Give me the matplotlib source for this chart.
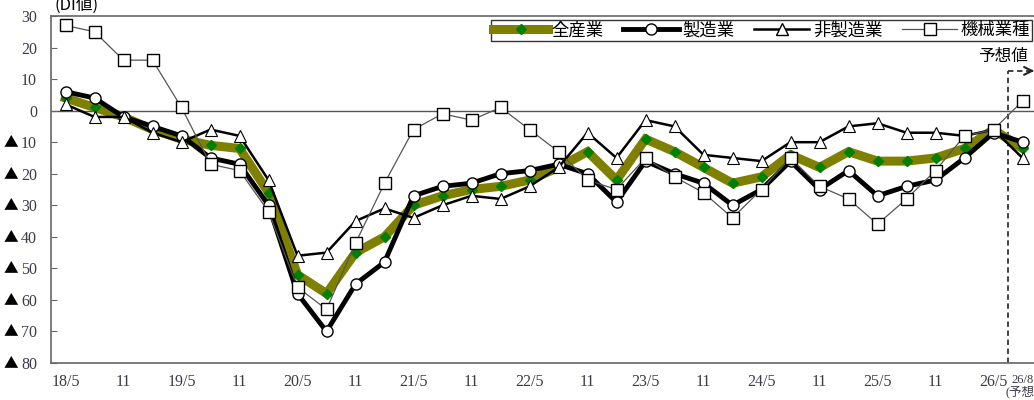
import matplotlib
matplotlib.use("Agg")
import matplotlib.pyplot as plt
from matplotlib.lines import Line2D

# quarterly DI values, 18/5 .. 26/5 plus the 26/8 forecast
all_industries = [4, 1, -2, -6, -9, -11, -12, -26, -52, -58, -45, -40, -30, -27, -25, -24, -22,
                  -18, -13, -22, -9, -13, -18, -23, -21, -14, -18, -13, -16, -16, -15, -12, -6, -12]
manufacturing = [6, 4, -2, -5, -8, -15, -17, -30, -58, -70, -55, -48, -27, -24, -23, -20, -19,
                 -17, -20, -29, -16, -20, -23, -30, -25, -16, -25, -19, -27, -24, -22, -15, -7, -10]
non_manufacturing = [2, -2, -2, -7, -10, -6, -8, -22, -46, -45, -35, -31, -34, -30, -27, -28, -24,
                     -18, -7, -15, -3, -5, -14, -15, -16, -10, -10, -5, -4, -7, -7, -8, -6, -15]
machinery = [27, 25, 16, 16, 1, -17, -19, -32, -56, -63, -42, -23, -6, -1, -3, 1, -6,
             -13, -22, -25, -15, -21, -26, -34, -25, -15, -24, -28, -36, -28, -19, -8, -6, 3]

x_tick_labels = ["18/5", "11", "19/5", "11", "20/5", "11", "21/5", "11", "22/5",
                 "11", "23/5", "11", "24/5", "11", "25/5", "11", "26/5"]
forecast_label = "26/8\n(予想)"
y_ticks = [30, 20, 10, 0, -10, -20, -30, -40, -50, -60, -70, -80]
y_tick_labels = ["30", "20", "10", "0", "10", "20", "30", "40", "50", "60", "70", "80"]

jp = ["Noto Sans CJK JP", "DejaVu Sans"]
num_font = ["Liberation Serif", "DejaVu Sans"]
tick_color = "#3a3a4a"

fig = plt.figure(figsize=(10.34, 4.0), dpi=100)
ax = fig.add_axes([51 / 1034, 37 / 400, 986 / 1034, 347 / 400])

x = list(range(len(all_industries)))

ax.plot(x, all_industries, color="#808000", lw=6.5, marker="D", ms=5.5,
        mfc="#008000", mec="#008000", zorder=2, solid_joinstyle="miter")
ax.plot(x, manufacturing, color="black", lw=3.5, marker="o", ms=8,
        mfc="white", mec="black", mew=1, zorder=3)
ax.plot(x, non_manufacturing, color="black", lw=1.8, marker="^", ms=8.5,
        mfc="white", mec="black", mew=0.8, zorder=4)
ax.plot(x, machinery, color="#555555", lw=0.9, marker="s", ms=9,
        mfc="white", mec="black", mew=1, zorder=5)

ax.axhline(0, color="#555555", lw=1, zorder=1)

# forecast marker
ax.plot([32.5, 32.5], [-80, 12.6], ls=(0, (3, 2)), color="#333333", lw=1.3, zorder=1)
ax.plot([32.5, 33.35], [12.6, 12.6], ls=(0, (3, 2)), color="#333333", lw=1.3, zorder=1)
ax.annotate("", xy=(33.5, 12.6), xytext=(33.2, 12.6),
            arrowprops=dict(arrowstyle="->", color="#222222", lw=1.5, mutation_scale=14))
ax.text(33.19, 17.3, "予想値", ha="right", va="center", fontsize=12, family=jp)

ax.set_xlim(-0.5, 33.5)
ax.set_ylim(-80, 30)

ax.set_yticks(y_ticks)
ax.set_yticklabels(y_tick_labels, family=num_font, fontsize=11.5, color=tick_color)
ax.tick_params(axis="y", direction="in", length=4, pad=10, color="#666666")

# negative values are written with a black triangle in front
for v in y_ticks:
    if v < 0:
        ax.text(-0.0406, v, "▲", transform=ax.get_yaxis_transform(), ha="center",
                va="center", fontsize=10.5, family=jp, color="black")

ax.set_xticks(list(range(0, 33, 2)) + [33])
ax.set_xticklabels(x_tick_labels + [forecast_label], family=num_font, fontsize=11.5, color=tick_color)
ax.get_xticklabels()[-1].set_fontsize(9)
ax.get_xticklabels()[-1].set_family(["Liberation Serif", "Noto Sans CJK JP"])
ax.get_xticklabels()[-1].set_linespacing(0.9)
ax.tick_params(axis="x", length=0, pad=8)

for side in ["left", "bottom", "top"]:
    ax.spines[side].set_color("#666666")
    ax.spines[side].set_linewidth(1.2)
ax.spines["right"].set_visible(False)

fig.text(55 / 1034, 1 - 10 / 400, "(DI値)", fontsize=12, family=jp, va="baseline")

handles = [
    Line2D([], [], color="#808000", lw=6.5, marker="D", ms=5.5, mfc="#008000", mec="#008000"),
    Line2D([], [], color="black", lw=3.5, marker="o", ms=8, mfc="white", mec="black"),
    Line2D([], [], color="black", lw=1.8, marker="^", ms=8.5, mfc="white", mec="black"),
    Line2D([], [], color="#555555", lw=0.9, marker="s", ms=9, mfc="white", mec="black"),
]
leg = fig.legend(handles, ["全産業", "製造業", "非製造業", "機械業種"],
                 loc="lower left", bbox_to_anchor=(491 / 1034, 1 - 41 / 400, 541 / 1034, 23 / 400),
                 mode="expand", ncol=4, frameon=True, fancybox=False, borderaxespad=0,
                 handlelength=3.2, handletextpad=0.2, borderpad=0.1,
                 prop={"family": jp, "size": 12.5})
leg.get_frame().set_edgecolor("black")
leg.get_frame().set_linewidth(1)

fig.savefig("out.png", dpi=100)
